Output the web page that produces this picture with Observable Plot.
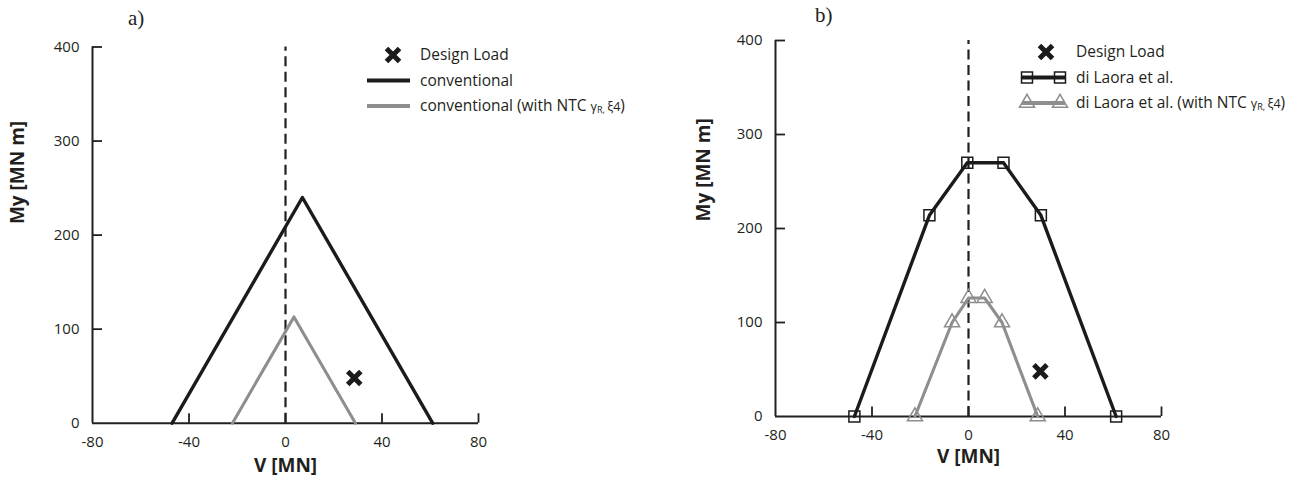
<!DOCTYPE html>
<html><head><meta charset="utf-8">
<script src="https://cdn.jsdelivr.net/npm/d3@7"></script>
<script src="https://cdn.jsdelivr.net/npm/@observablehq/plot@0.6"></script>
<style>
body{margin:0;background:#fff;}
#wrap{position:relative;width:1301px;height:484px;overflow:hidden;font-family:"Open Sans",sans-serif;}
.panel{position:absolute;top:0;height:484px;}
.panel svg{display:block}
.plabel{position:absolute;font-family:"Liberation Serif","Times New Roman",serif;font-size:21px;color:#231f20;line-height:1;}
.legend{position:absolute;left:0;top:0;overflow:visible;}
</style></head><body><div id="wrap"></div>
<script>
// ---- data ----
const xTicks = [-80, -40, 0, 40, 80];
const yTicks = [0, 100, 200, 300, 400];

const convV      = [-47, 7, 61];
const convMy     = [0, 240, 0];
const convNtcV   = [-22, 3.5, 29];
const convNtcMy  = [0, 113, 0];

const laoraV     = [-47.3, -16.2, -0.5, 14.5, 30, 61.2];
const laoraMy    = [0, 214, 270, 270, 214, 0];
const laoraNtcV  = [-22.2, -6.8, 0, 6.7, 13.9, 28.7];
const laoraNtcMy = [0, 100, 126, 126, 100, 0];

const designLoadA = [28.5, 48];
const designLoadB = [29.8, 48];

const xLabel = "V [MN]";
const yLabel = "My [MN m]";
const loadLabel = "Design Load";

// ---- styles ----
const ink = "#231f20";
const black = "#1c1a1a";
const gray = "#8e8e8e";

const rows = (V, M) => V.map((v, i) => ({V: v, My: M[i]}));

function makePlot(cfg) {
  const {series, load, m, yLab, xLab} = cfg;
  const pxPerX = (cfg.width - m.left - m.right) / 160;
  const pxPerY = (484 - m.top - m.bottom) / 400;
  const marks = [
    Plot.ruleX([0], {y1: 0, y2: 400, stroke: ink, strokeWidth: 2.2, strokeDasharray: "10,5.5"}),
    Plot.ruleY([0], {x1: -80, x2: 80, stroke: ink, strokeWidth: 2}),
    Plot.ruleX([-80], {y1: 0, y2: 400, stroke: ink, strokeWidth: 2}),
    Plot.ruleX(xTicks.filter(d => d > -80), {y1: 0, y2: 9.5 / pxPerY, stroke: ink, strokeWidth: 1.8}),
    Plot.ruleY(yTicks.filter(d => d > 0), {x1: -80, x2: -80 + 10 / pxPerX, stroke: ink, strokeWidth: 1.8}),
    Plot.axisX({ticks: xTicks, tickSize: 0, tickPadding: 13, label: null, tickFormat: d => String(d), fill: ink, fontSize: 15}),
    Plot.axisY({ticks: yTicks, tickSize: 0, tickPadding: 13, label: null, tickFormat: d => String(d), fill: ink, fontSize: 15}),
  ];
  for (const s of series) {
    const data = rows(s.V, s.My);
    marks.push(Plot.line(data, {x: "V", y: "My", stroke: s.color, strokeWidth: s.width}));
    if (s.symbol) marks.push(Plot.dot(data, {x: "V", y: "My", symbol: s.symbol, r: s.r, stroke: s.color, fill: "none", strokeWidth: 1.5}));
  }
  marks.push(Plot.dot([load], {x: d => d[0], y: d => d[1], symbol: "times", r: 6, stroke: black, strokeWidth: 5}));
  marks.push(Plot.text([yLabel], {text: d => d, frameAnchor: "left", rotate: -90, dx: yLab.dx, dy: yLab.dy, fontSize: 19, fontWeight: "bold", fill: ink}));
  marks.push(Plot.text([xLabel], {text: d => d, frameAnchor: "bottom", dy: xLab.dy, fontSize: 19, fontWeight: "bold", fill: ink}));
  return Plot.plot({
    width: cfg.width, height: 484,
    marginLeft: m.left, marginRight: m.right, marginTop: m.top, marginBottom: m.bottom,
    x: {domain: [-80, 80]},
    y: {domain: [0, 400]},
    style: {fontFamily: "'Open Sans', sans-serif", fontSize: "15px", color: ink, background: "transparent", overflow: "visible"},
    marks
  });
}

function legend(host, cfg) {
  const svg = d3.select(host).append("svg").attr("class", "legend")
    .attr("width", cfg.width).attr("height", 484)
    .style("font-family", "'Open Sans', sans-serif").style("font-size", "15.5px");
  const L = cfg.legend;
  svg.append("path").attr("d", d3.symbol(d3.symbolTimes, 6 * 6 * Math.PI)())
    .attr("transform", `translate(${L.markX},${L.y0})`)
    .attr("stroke", black).attr("stroke-width", 5).attr("fill", "none");
  svg.append("text").attr("x", L.textX).attr("y", L.y0).attr("dy", "0.35em").attr("fill", ink).text(loadLabel);
  cfg.series.forEach((s, i) => {
    const y = L.y0 + L.step * (i + 1);
    svg.append("line").attr("x1", L.sw0).attr("x2", L.sw1).attr("y1", y).attr("y2", y)
      .attr("stroke", s.color).attr("stroke-width", s.width + 0.8);
    if (s.symbol) {
      const sym = s.symbol === "square" ? d3.symbolSquare : d3.symbolTriangle;
      for (const sx of [L.sw0 + 5, L.sw1 - 5]) {
        svg.append("path").attr("d", d3.symbol(sym, s.r * s.r * Math.PI)())
          .attr("transform", `translate(${sx},${y})`)
          .attr("stroke", s.color).attr("stroke-width", 1.5).attr("fill", "none");
      }
    }
    const t = svg.append("text").attr("x", L.textX).attr("y", y).attr("dy", "0.35em").attr("fill", ink);
    t.append("tspan").text(s.label);
    if (s.ntc) {
      t.append("tspan").text(" (with NTC ");
      t.append("tspan").attr("font-size", "12.5px").text("γ");
      t.append("tspan").attr("font-size", "9px").attr("dy", "2").text("R, ");
      t.append("tspan").attr("font-size", "12.5px").attr("dy", "-2").text("ξ4");
      t.append("tspan").text(")");
    }
  });
}

const panels = [
  {
    left: 0, width: 650, tag: "a)", tagX: 128, tagY: 8,
    m: {left: 92, right: 172, top: 46.5, bottom: 61.3},
    yLab: {dx: -75, dy: -11}, xLab: {dy: 49},
    load: designLoadA,
    series: [
      {label: "conventional", V: convV, My: convMy, color: black, width: 3.4},
      {label: "conventional", ntc: true, V: convNtcV, My: convNtcMy, color: gray, width: 3.1}
    ],
    legend: {markX: 393, textX: 420, y0: 55, step: 25.5, sw0: 367, sw1: 410}
  },
  {
    left: 650, width: 651, tag: "b)", tagX: 165, tagY: 5,
    m: {left: 125, right: 140, top: 40, bottom: 68},
    yLab: {dx: -72, dy: -7}, xLab: {dy: 46},
    load: designLoadB,
    series: [
      {label: "di Laora et al.", V: laoraV, My: laoraMy, color: black, width: 3.4, symbol: "square", r: 6.2},
      {label: "di Laora et al.", ntc: true, V: laoraNtcV, My: laoraNtcMy, color: gray, width: 3.1, symbol: "triangle", r: 5.6}
    ],
    legend: {markX: 396, textX: 426, y0: 52, step: 25.5, sw0: 372, sw1: 415}
  }
];

const wrap = document.getElementById("wrap");
for (const p of panels) {
  const div = document.createElement("div");
  div.className = "panel";
  div.style.left = p.left + "px";
  div.style.width = p.width + "px";
  div.appendChild(makePlot(p));
  const tag = document.createElement("div");
  tag.className = "plabel";
  tag.style.left = p.tagX + "px";
  tag.style.top = p.tagY + "px";
  tag.textContent = p.tag;
  div.appendChild(tag);
  legend(div, p);
  wrap.appendChild(div);
}
</script></body></html>
